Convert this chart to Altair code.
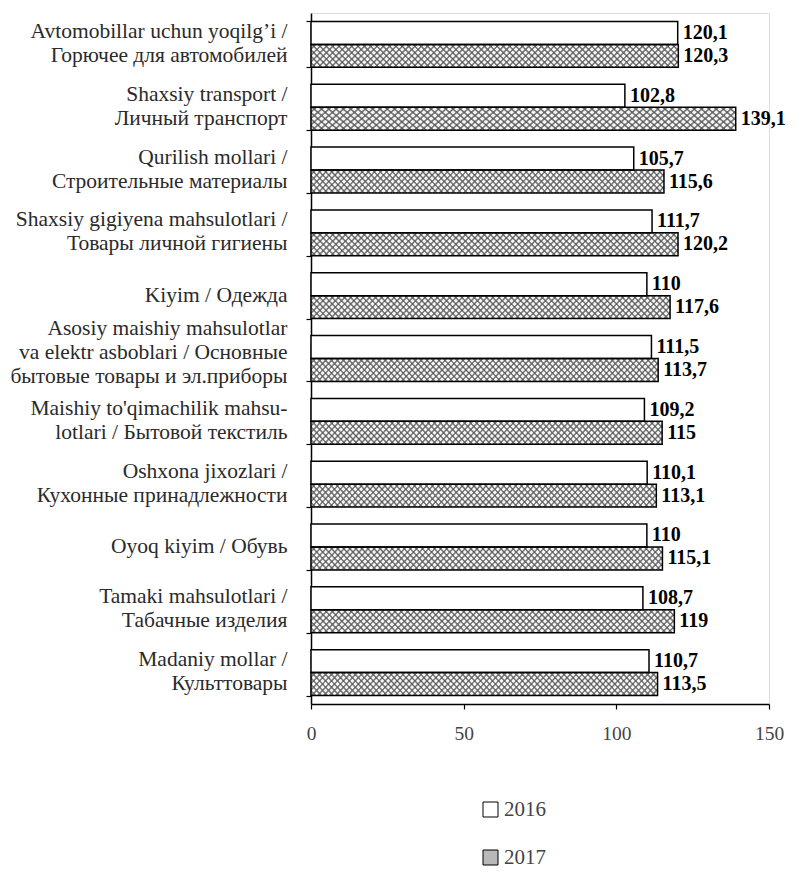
import altair as alt
import pandas as pd

categories = [
    "Avtomobillar uchun yoqilg’i /|Горючее для автомобилей",
    "Shaxsiy transport /|Личный транспорт",
    "Qurilish mollari /|Строительные материалы",
    "Shaxsiy gigiyena mahsulotlari /|Товары личной гигиены",
    "Kiyim / Одежда",
    "Asosiy maishiy mahsulotlar|va elektr asboblari / Основные|бытовые товары и эл.приборы",
    "Maishiy to'qimachilik mahsu-|lotlari  / Бытовой текстиль",
    "Oshxona jixozlari /|Кухонные принадлежности",
    "Oyoq kiyim / Обувь",
    "Tamaki mahsulotlari  /|Табачные изделия",
    "Madaniy mollar  /|Культтовары",
]
years = ["2016", "2017"]
values_2016 = [120.1, 102.8, 105.7, 111.7, 110, 111.5, 109.2, 110.1, 110, 108.7, 110.7]
values_2017 = [120.3, 139.1, 115.6, 120.2, 117.6, 113.7, 115, 113.1, 115.1, 119, 113.5]
labels_2016 = ["120,1", "102,8", "105,7", "111,7", "110", "111,5", "109,2", "110,1", "110", "108,7", "110,7"]
labels_2017 = ["120,3", "139,1", "115,6", "120,2", "117,6", "113,7", "115", "113,1", "115,1", "119", "113,5"]
x_ticks = [0, 50, 100, 150]

rows = []
for c, v, l in zip(categories, values_2016, labels_2016):
    rows.append({"category": c, "year": "2016", "value": v, "label": l})
for c, v, l in zip(categories, values_2017, labels_2017):
    rows.append({"category": c, "year": "2017", "value": v, "label": l})
df = pd.DataFrame(rows)

FONT = "Liberation Serif"

# crosshatch pattern built from soft-edged linear gradients
N_STRIPES = 70
RATIO = 0.062
CLEAR = "rgba(0,0,0,0)"
INK = "#727272"


def hatch_stops():
    stops = []
    for k in range(N_STRIPES):
        stops += [
            alt.GradientStop(color=CLEAR, offset=round(k / N_STRIPES, 5)),
            alt.GradientStop(color=CLEAR, offset=round((k + 0.5) / N_STRIPES, 5)),
            alt.GradientStop(color=INK, offset=round((k + 0.75) / N_STRIPES, 5)),
            alt.GradientStop(color=CLEAR, offset=round((k + 1) / N_STRIPES, 5)),
        ]
    return stops


grad_a = alt.LinearGradient(gradient="linear", stops=hatch_stops(),
                            x1=-0.1, y1=0.5, x2=1.1, y2=0.5 - 1.2 * RATIO)
grad_b = alt.LinearGradient(gradient="linear", stops=hatch_stops(),
                            x1=-0.1, y1=0.5, x2=1.1, y2=0.5 + 1.2 * RATIO)

y_enc = alt.Y(
    "category:N",
    sort=categories,
    scale=alt.Scale(paddingInner=0.27, paddingOuter=0.135),
    axis=alt.Axis(
        title=None,
        labelExpr="split(datum.label, '|')",
        labelFont=FONT,
        labelFontSize=21.5,
        labelColor="#2a2a2a",
        labelLineHeight=24,
        labelAlign="right",
        labelBaseline="middle",
        labelPadding=19,
        labelLimit=400,
        labelOffset={
            "condition": [
                {"test": "length(split(datum.value, '|')) == 3", "value": -30},
                {"test": "length(split(datum.value, '|')) == 2", "value": -13},
            ],
            "value": 0,
        },
        tickSize=5,
        tickBand="extent",
        tickColor="black",
        tickWidth=1.2,
        domainColor="black",
        domainWidth=1.5,
        grid=False,
    ),
)
yoff_enc = alt.YOffset("year:N", scale=alt.Scale(domain=years, paddingInner=0, paddingOuter=0))
x_enc = alt.X(
    "value:Q",
    scale=alt.Scale(domain=[0, 150], nice=False, zero=True),
    axis=alt.Axis(
        title=None,
        values=x_ticks,
        labelFont=FONT,
        labelFontSize=19.5,
        labelColor="#444444",
        labelPadding=15,
        labelFlush=False,
        tickSize=5,
        tickColor="black",
        tickWidth=1.2,
        domainColor="black",
        domainWidth=1.5,
        grid=False,
    ),
)

base = alt.Chart(df).encode(y=y_enc, yOffset=yoff_enc, x=x_enc)

fill_layer = base.mark_bar(strokeWidth=0).encode(
    color=alt.Color(
        "year:N",
        scale=alt.Scale(domain=years, range=["#ffffff", "#f6f6f6"]),
        legend=None,
    )
)
legend_layer = base.mark_bar(opacity=0).encode(
    fill=alt.Fill(
        "year:N",
        scale=alt.Scale(domain=years, range=["#ffffff", "#b8b8b8"]),
        legend=alt.Legend(
            title=None,
            orient="none",
            legendX=169,
            legendY=786,
            direction="vertical",
            symbolType="square",
            symbolSize=225,
            symbolOpacity=1,
            symbolStrokeColor="black",
            symbolStrokeWidth=1,
            labelFont=FONT,
            labelFontSize=21,
            labelColor="#444444",
            labelOffset=3,
            rowPadding=26,
        ),
    )
)
hatch_a = base.transform_filter(alt.datum.year == "2017").mark_bar(color=grad_a, strokeWidth=0)
hatch_b = base.transform_filter(alt.datum.year == "2017").mark_bar(color=grad_b, strokeWidth=0)
outline = base.mark_bar(fill="transparent", stroke="black", strokeWidth=1.5)
text = base.mark_text(
    align="left", baseline="middle", dx=5, font=FONT, fontSize=20, fontWeight="bold", color="black"
).encode(text="label:N")

chart = (
    alt.layer(legend_layer, fill_layer, hatch_a, hatch_b, outline, text)
    .resolve_scale(fill="independent")
    .properties(
        width=458,
        height=691,
        autosize=alt.AutoSizeParams(type="none"),
        padding={"left": 303, "top": 5, "right": 20, "bottom": 174},
    )
    .configure_view(stroke=None)
    .configure(background="white")
)

chart.save("out.html", embed_options={"renderer": "svg", "actions": False})
